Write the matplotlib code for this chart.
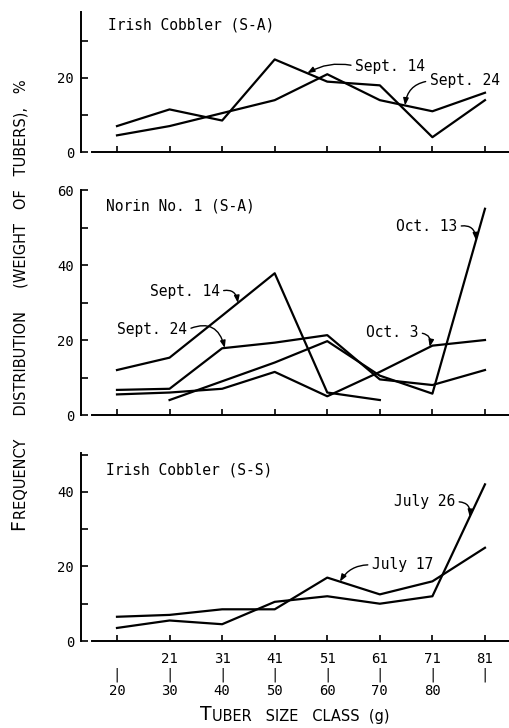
import numpy as np
import matplotlib.pyplot as plt

# size classes (g)
class_low = ['', '21', '31', '41', '51', '61', '71', '81']
class_high = ['20', '30', '40', '50', '60', '70', '80', '']

# Irish Cobbler (S-A)
ic_sa_sept14 = [7, 11.5, 8.5, 25, 19, 18, 4, 14]
ic_sa_sept24 = [4.5, 7, 10.5, 14, 21, 14, 11, 16]

# Norin No. 1 (S-A)
n1_sept14 = [12, 15.3, 26.5, 37.8, 6, 4, np.nan, np.nan]
n1_sept24 = [6.7, 7, 17.8, 19.3, 21.3, 9.5, 8, 12]
n1_oct3 = [5.5, 6, 7, 11.5, 5, 11.5, 18.5, 20]
n1_oct13 = [np.nan, 4, 9, 14, 19.7, 10.5, 5.7, 55]

# Irish Cobbler (S-S)
ic_ss_july17 = [6.5, 7, 8.5, 8.5, 17, 12.5, 16, 25]
ic_ss_july26 = [3.5, 5.5, 4.5, 10.5, 12, 10, 12, 42]

x = np.arange(len(class_low))
mono = 'DejaVu Sans Mono'

fig = plt.figure(figsize=(5.1, 7.28), dpi=100)


def make_axes(rect, ytop, yticks, ylabels):
    ax = fig.add_axes(rect)
    ax.set_xlim(-0.685, 7.476)
    ax.set_ylim(0, ytop)
    for s in ['top', 'right']:
        ax.spines[s].set_visible(False)
    ax.spines['left'].set_linewidth(1.4)
    ax.spines['bottom'].set_linewidth(1.4)
    ax.spines['bottom'].set_bounds(-0.476, 7.476)
    ax.set_xticks(x)
    ax.set_xticklabels([])
    ax.set_yticks(yticks)
    ax.set_yticklabels(ylabels, family=mono, fontsize=10)
    ax.tick_params(axis='y', direction='in', length=5, width=1.2, pad=5)
    ax.tick_params(axis='x', direction='in', length=4, width=1.2)
    return ax


def note(ax, text, series, at, xytext, ha='left', rad=0.4):
    y = np.interp(at, x, series)
    rel = (0, 0.5) if ha == 'left' else (1, 0.5)
    ax.annotate(text, xy=(at, y), xytext=xytext, ha=ha, va='center',
                family=mono, fontsize=10.5,
                arrowprops=dict(arrowstyle='-|>,head_length=0.4,head_width=0.15',
                                lw=1, color='black', shrinkA=1, shrinkB=0,
                                relpos=rel,
                                connectionstyle=f'arc3,rad={rad}'))


kw = dict(color='black', lw=1.6)

# top panel
ax1 = make_axes([0.1588, 0.7912, 0.8412, 0.1923], 37.8,
                [0, 10, 20, 30], ['0', '', '20', ''])
ax1.plot(x, ic_sa_sept14, **kw)
ax1.plot(x, ic_sa_sept24, **kw)
ax1.text(-0.17, 34.3, 'Irish Cobbler (S-A)', family=mono, fontsize=10.5,
         va='center')
note(ax1, 'Sept. 14', ic_sa_sept14, 3.62, (4.53, 23.2), rad=0.2)
note(ax1, 'Sept. 24', ic_sa_sept24, 5.48, (5.95, 19.2), rad=0.4)

# middle panel
ax2 = make_axes([0.1588, 0.4299, 0.8412, 0.3091], 60,
                [0, 10, 20, 30, 40, 50, 60],
                ['0', '', '20', '', '40', '', '60'])
for s in [n1_sept14, n1_sept24, n1_oct3, n1_oct13]:
    ax2.plot(x, s, **kw)
ax2.text(-0.21, 55.7, 'Norin No. 1 (S-A)', family=mono, fontsize=10.5,
         va='center')
note(ax2, 'Oct. 13', n1_oct13, 6.83, (6.47, 50.2), ha='right', rad=-0.6)
note(ax2, 'Sept. 14', n1_sept14, 2.3, (1.95, 32.9), ha='right', rad=-0.6)
note(ax2, 'Sept. 24', n1_sept24, 2.05, (1.33, 22.7), ha='right', rad=-0.6)
note(ax2, 'Oct. 3', n1_oct3, 5.95, (5.73, 21.9), ha='right', rad=-0.6)

# bottom panel
ax3 = make_axes([0.1588, 0.1195, 0.8412, 0.2582], 50.4,
                [0, 10, 20, 30, 40, 50], ['0', '', '20', '', '40', ''])
ax3.plot(x, ic_ss_july17, **kw)
ax3.plot(x, ic_ss_july26, **kw)
ax3.text(-0.21, 45.8, 'Irish Cobbler (S-S)', family=mono, fontsize=10.5,
         va='center')
note(ax3, 'July 26', ic_ss_july26, 6.71, (6.43, 37.3), ha='right', rad=-0.6)
note(ax3, 'July 17', ic_ss_july17, 4.24, (4.85, 20.4), rad=0.3)

ax3.set_xticklabels([f'{lo}\n|\n{hi}' for lo, hi in zip(class_low, class_high)],
                    family=mono, fontsize=10, linespacing=1.15)
ax3.tick_params(axis='x', pad=8)

# axis titles in small caps style
tx = fig.text(0.392, 0.011, 'T', fontsize=13.5, ha='left', va='baseline')
ax3.annotate('UBER   SIZE   CLASS  (g)', xy=(1, 0), xycoords=tx,
             fontsize=10.5, ha='left', va='bottom')

fy = fig.text(0.055, 0.272, 'F', fontsize=13.5, rotation=90,
              ha='right', va='bottom')
ax3.annotate('REQUENCY     DISTRIBUTION     (WEIGHT   OF   TUBERS),   %',
             xy=(1, 1), xycoords=fy, fontsize=10.5, rotation=90,
             ha='right', va='bottom')

fig.savefig('out.png', dpi=100)
